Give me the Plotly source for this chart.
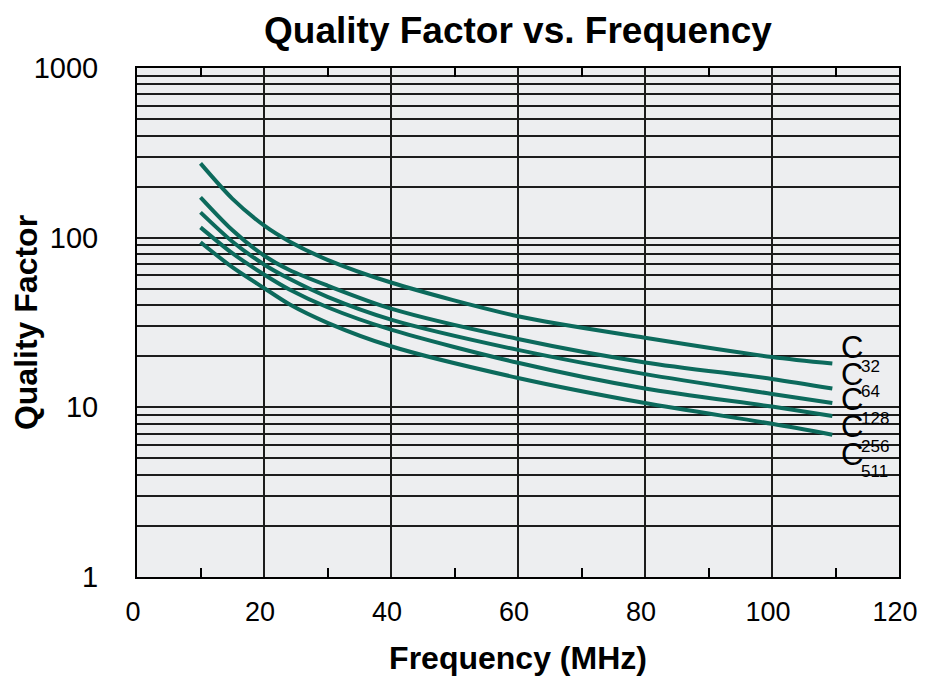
import math
import plotly.graph_objects as go

# ---- data ----
freq_mhz = [10, 15, 20, 24, 30, 40, 60, 80, 100, 109.5]
q_c32 = [274, 170, 118, 95, 74, 54.4, 34.4, 25.7, 19.8, 18.1]
q_c64 = [173, 111, 78.5, 64.5, 52.2, 38.2, 25.3, 18.4, 14.7, 12.9]
q_c128 = [141, 95, 69.5, 57.2, 44.8, 32.9, 21.8, 15.7, 12.0, 10.6]
q_c256 = [115, 81, 60.7, 49.5, 38.9, 28.7, 18.3, 12.9, 10.1, 8.9]
q_c511 = [94, 67, 50.5, 40.5, 31.5, 22.9, 14.9, 10.6, 8.0, 6.9]

series_names = ["C32", "C64", "C128", "C256", "C511"]
series_values = [q_c32, q_c64, q_c128, q_c256, q_c511]

x_tick_vals = [0, 20, 40, 60, 80, 100, 120]
y_major = [1, 10, 100, 1000]

# label placement (value coordinates)
label_c_y = [22.5, 15.6, 11.1, 7.68, 5.25]
label_num_y = [17.4, 12.4, 8.57, 5.85, 4.17]
label_nums = ["32", "64", "128", "256", "511"]

LINE_COLOR = "#0c6a5c"
GRID = "#1c1c1c"
BG = "#edeef0"
FONT = "Liberation Sans, Arial, Helvetica, sans-serif"

fig = go.Figure()
for name, vals in zip(series_names, series_values):
    fig.add_trace(go.Scatter(x=freq_mhz, y=vals, mode="lines", name=name,
                             line=dict(color=LINE_COLOR, width=4, shape="spline",
                                       smoothing=0.8),
                             showlegend=False))

# y gridlines at every 1..9 x decade
y_tickvals = []
y_ticktext = []
for d in range(3):
    for m in range(1, 10):
        v = m * 10 ** d
        y_tickvals.append(v)
        y_ticktext.append(str(v) if v in y_major else "")
y_tickvals.append(1000)
y_ticktext.append("1000")

fig.update_layout(
    width=919, height=668,
    margin=dict(l=129, r=28, t=60, b=99),
    paper_bgcolor="white",
    plot_bgcolor=BG,
    font=dict(family=FONT, color="black"),
    title=dict(text="<b>Quality Factor vs. Frequency</b>", x=0.5, xref="paper",
               xanchor="center", y=0.967, yanchor="middle", yref="container",
               font=dict(size=37, family=FONT)),
)

fig.update_xaxes(
    range=[0, 120], tickvals=x_tick_vals, ticktext=[str(v) for v in x_tick_vals],
    showgrid=True, gridcolor=GRID, gridwidth=1.5,
    showline=True, linecolor="black", linewidth=2, mirror="allticks",
    ticks="inside", ticklen=0, tickcolor="black",
    minor=dict(tickvals=[10, 30, 50, 70, 90, 110], ticks="inside", ticklen=9,
               tickcolor="black", tickwidth=1.5, showgrid=False),
    tickfont=dict(size=27), ticklabelstandoff=10, ticklabelshift=-4,
    title=dict(text="<b>Frequency (MHz)</b>", font=dict(size=32), standoff=21),
    zeroline=False, automargin=False,
)
fig.update_yaxes(
    type="log", range=[0, 3], tickvals=y_tickvals, ticktext=y_ticktext,
    showgrid=True, gridcolor=GRID, gridwidth=1.5,
    showline=True, linecolor="black", linewidth=2, mirror=True,
    ticks="", tickfont=dict(size=29), ticklabelstandoff=31,
    title=dict(text="<b>Quality Factor</b>", font=dict(size=32), standoff=6),
    zeroline=False, automargin=False,
)

# box behind the curve labels hiding the gridlines
fig.add_shape(type="rect", xref="x", yref="paper", x0=110.2, x1=118.1,
              y0=0.543 / 3, y1=1.44 / 3, fillcolor=BG, line=dict(width=0),
              layer="between")

for cy, ny, num in zip(label_c_y, label_num_y, label_nums):
    fig.add_annotation(x=110.6, y=math.log10(cy), xref="x", yref="y", text="C",
                       showarrow=False, xanchor="left", yanchor="middle",
                       font=dict(size=31, family=FONT))
    fig.add_annotation(x=113.7, y=math.log10(ny), xref="x", yref="y", text=num,
                       showarrow=False, xanchor="left", yanchor="middle",
                       font=dict(size=17, family=FONT))

fig.write_html("out.html")
